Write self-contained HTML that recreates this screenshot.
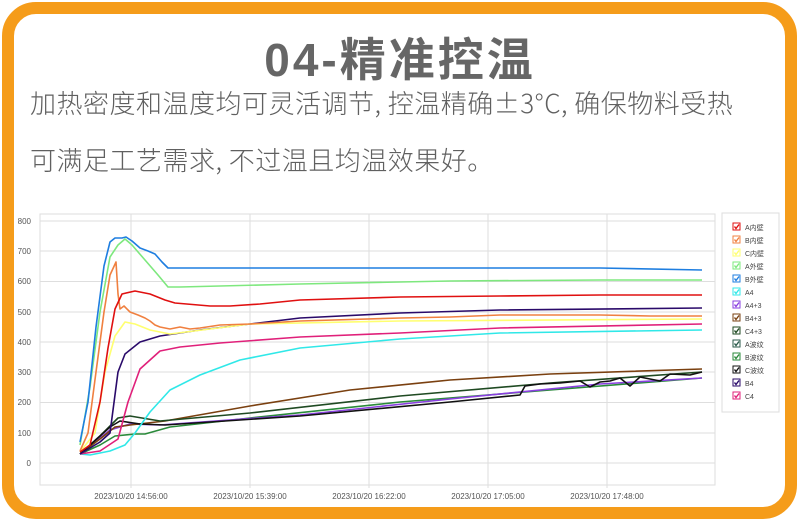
<!DOCTYPE html>
<html><head><meta charset="utf-8">
<style>
html,body{margin:0;padding:0;background:#fff;}
body{width:800px;height:520px;position:relative;overflow:hidden;font-family:"Liberation Sans","Noto Sans CJK SC",sans-serif;}
.frame{position:absolute;left:2px;top:2px;width:771px;height:493px;border:12px solid #f59c1a;border-radius:34px;background:#fff;}
.title{position:absolute;left:0;width:800px;top:24px;text-align:center;font-size:46px;font-weight:bold;color:#666;letter-spacing:3px;font-family:"Liberation Sans","Noto Sans CJK SC",sans-serif;}
.t{position:absolute;left:30px;font-size:26px;color:#606060;white-space:nowrap;letter-spacing:0.5px;font-family:"Noto Sans CJK SC",sans-serif;font-weight:300;}
svg{position:absolute;left:0;top:0;}
</style></head><body>
<div class="frame"></div>
<div class="title">04-精准控温</div>
<div class="t" style="top:84px">加热密度和温度均可灵活调节, 控温精确±3°C, 确保物料受热</div>
<div class="t" style="top:141px">可满足工艺需求, 不过温且均温效果好。</div>
<svg width="800" height="520" viewBox="0 0 800 520" font-family="Liberation Sans, Noto Sans CJK SC, sans-serif">
<rect x="40" y="214" width="675" height="271" fill="#fff" stroke="#ddd"/>
<g stroke="#dedede" stroke-width="1">
<line x1="40" x2="715" y1="221" y2="221"/><line x1="40" x2="715" y1="251" y2="251"/><line x1="40" x2="715" y1="281.5" y2="281.5"/><line x1="40" x2="715" y1="312" y2="312"/><line x1="40" x2="715" y1="342" y2="342"/><line x1="40" x2="715" y1="372" y2="372"/><line x1="40" x2="715" y1="402.5" y2="402.5"/><line x1="40" x2="715" y1="433" y2="433"/><line x1="40" x2="715" y1="463" y2="463"/>
<line x1="131" x2="131" y1="214" y2="488"/><line x1="250" x2="250" y1="214" y2="488"/><line x1="369" x2="369" y1="214" y2="488"/><line x1="488" x2="488" y1="214" y2="488"/><line x1="607" x2="607" y1="214" y2="488"/>
</g>
<g font-size="8" fill="#555" text-anchor="end">
<text x="31" y="224">800</text><text x="31" y="254">700</text><text x="31" y="284">600</text><text x="31" y="315">500</text><text x="31" y="345">400</text><text x="31" y="375">300</text><text x="31" y="405">200</text><text x="31" y="436">100</text><text x="31" y="466">0</text>
</g>
<g font-size="8" fill="#555" text-anchor="middle">
<text x="131" y="499">2023/10/20 14:56:00</text><text x="250" y="499">2023/10/20 15:39:00</text><text x="369" y="499">2023/10/20 16:22:00</text><text x="488" y="499">2023/10/20 17:05:00</text><text x="607" y="499">2023/10/20 17:48:00</text>
</g>
<g fill="none" stroke-width="1.6" stroke-linejoin="round">
<polyline stroke="#2a8a3a" points="80,454 100,445 115,436 135,434 145,434 170,427 250,418 400,402 550,390 702,378"/>
<polyline stroke="#8a40e0" points="80,454 110,430 130,424 160,425 300,415 450,399 600,384 702,378"/>
<polyline stroke="#7a4010" points="80,454 100,439 115,427 130,425 165,421 250,406 350,390 450,380 550,374 702,369"/>
<polyline stroke="#1f4a22" points="80,454 100,436 118,418 130,416 160,421 250,413 400,396 550,383 702,372"/>
<polyline stroke="#111" points="80,454 110,427 120,421 140,424 165,425 300,416 450,402 520,395 525,386 540,384 560,383 580,381 590,387 600,382 610,381 620,378 630,386 640,377 660,381 670,374 690,375 702,372"/>
<polyline stroke="#30e8e8" points="80,454 90,455 110,451 125,445 135,433 150,412 170,390 200,375 240,360 300,348 400,339 500,333 702,330"/>
<polyline stroke="#e0207a" points="80,454 100,451 118,439 128,402 140,369 160,351 180,347 220,343 300,337 400,333 500,328 702,324"/>
<polyline stroke="#2a0a6a" points="80,454 100,442 110,433 118,372 125,354 140,342 160,336 200,330 250,324 300,318 400,313 500,310 702,308"/>
<polyline stroke="#ffff70" points="80,452 95,433 105,372 115,336 125,322 135,324 150,330 170,334 250,324 400,321 702,319"/>
<polyline stroke="#f08040" points="80,451 88,433 96,372 104,312 110,275 116,262 118,294 120,309 124,306 130,312 138,315 145,318 150,321 155,325 160,327 165,328 170,329 180,327 190,329 200,328 220,325 250,324 300,321 400,318 450,317 500,315 550,315 600,315 650,316 702,316"/>
<polyline stroke="#e01010" points="80,452 90,445 100,402 108,348 115,309 122,294 135,291 150,294 165,300 175,303 210,306 230,306 260,304 300,300 400,297 500,296 600,295 702,295"/>
<polyline stroke="#7ee87e" points="80,445 90,387 100,312 110,257 118,245 125,239 132,245 145,260 158,275 168,287 180,287 300,284 450,281 600,280 702,280"/>
<polyline stroke="#1e7ee0" points="80,442 88,402 96,327 104,266 110,242 115,238 122,238 126,237 132,241 140,248 148,251 155,254 162,262 168,268 175,268 400,268 600,268 702,270"/>
</g>
<rect x="722" y="213" width="57" height="199" fill="#fff" stroke="#ddd"/>
<g font-size="7" fill="#444">
<g transform="translate(733,223)"><rect width="7" height="7" fill="#fff" stroke="#e01010"/><path d="M1.5,3.5 L3,5.5 L6,1.5" stroke="#e01010" stroke-width="1.4" fill="none"/><text x="12" y="7">A内壁</text></g>
<g transform="translate(733,236)"><rect width="7" height="7" fill="#fff" stroke="#f08040"/><path d="M1.5,3.5 L3,5.5 L6,1.5" stroke="#f08040" stroke-width="1.4" fill="none"/><text x="12" y="7">B内壁</text></g>
<g transform="translate(733,249)"><rect width="7" height="7" fill="#fff" stroke="#ffff70"/><path d="M1.5,3.5 L3,5.5 L6,1.5" stroke="#ffff70" stroke-width="1.4" fill="none"/><text x="12" y="7">C内壁</text></g>
<g transform="translate(733,262)"><rect width="7" height="7" fill="#fff" stroke="#7ee87e"/><path d="M1.5,3.5 L3,5.5 L6,1.5" stroke="#7ee87e" stroke-width="1.4" fill="none"/><text x="12" y="7">A外壁</text></g>
<g transform="translate(733,275)"><rect width="7" height="7" fill="#fff" stroke="#1e7ee0"/><path d="M1.5,3.5 L3,5.5 L6,1.5" stroke="#1e7ee0" stroke-width="1.4" fill="none"/><text x="12" y="7">B外壁</text></g>
<g transform="translate(733,288)"><rect width="7" height="7" fill="#fff" stroke="#30e8e8"/><path d="M1.5,3.5 L3,5.5 L6,1.5" stroke="#30e8e8" stroke-width="1.4" fill="none"/><text x="12" y="7">A4</text></g>
<g transform="translate(733,301)"><rect width="7" height="7" fill="#fff" stroke="#8a40e0"/><path d="M1.5,3.5 L3,5.5 L6,1.5" stroke="#8a40e0" stroke-width="1.4" fill="none"/><text x="12" y="7">A4+3</text></g>
<g transform="translate(733,314)"><rect width="7" height="7" fill="#fff" stroke="#7a4010"/><path d="M1.5,3.5 L3,5.5 L6,1.5" stroke="#7a4010" stroke-width="1.4" fill="none"/><text x="12" y="7">B4+3</text></g>
<g transform="translate(733,327)"><rect width="7" height="7" fill="#fff" stroke="#1f4a22"/><path d="M1.5,3.5 L3,5.5 L6,1.5" stroke="#1f4a22" stroke-width="1.4" fill="none"/><text x="12" y="7">C4+3</text></g>
<g transform="translate(733,340)"><rect width="7" height="7" fill="#fff" stroke="#2a5a4a"/><path d="M1.5,3.5 L3,5.5 L6,1.5" stroke="#2a5a4a" stroke-width="1.4" fill="none"/><text x="12" y="7">A波纹</text></g>
<g transform="translate(733,353)"><rect width="7" height="7" fill="#fff" stroke="#2a8a3a"/><path d="M1.5,3.5 L3,5.5 L6,1.5" stroke="#2a8a3a" stroke-width="1.4" fill="none"/><text x="12" y="7">B波纹</text></g>
<g transform="translate(733,366)"><rect width="7" height="7" fill="#fff" stroke="#111"/><path d="M1.5,3.5 L3,5.5 L6,1.5" stroke="#111" stroke-width="1.4" fill="none"/><text x="12" y="7">C波纹</text></g>
<g transform="translate(733,379)"><rect width="7" height="7" fill="#fff" stroke="#2a0a6a"/><path d="M1.5,3.5 L3,5.5 L6,1.5" stroke="#2a0a6a" stroke-width="1.4" fill="none"/><text x="12" y="7">B4</text></g>
<g transform="translate(733,392)"><rect width="7" height="7" fill="#fff" stroke="#e0207a"/><path d="M1.5,3.5 L3,5.5 L6,1.5" stroke="#e0207a" stroke-width="1.4" fill="none"/><text x="12" y="7">C4</text></g>
</g>
</svg>
</body></html>
